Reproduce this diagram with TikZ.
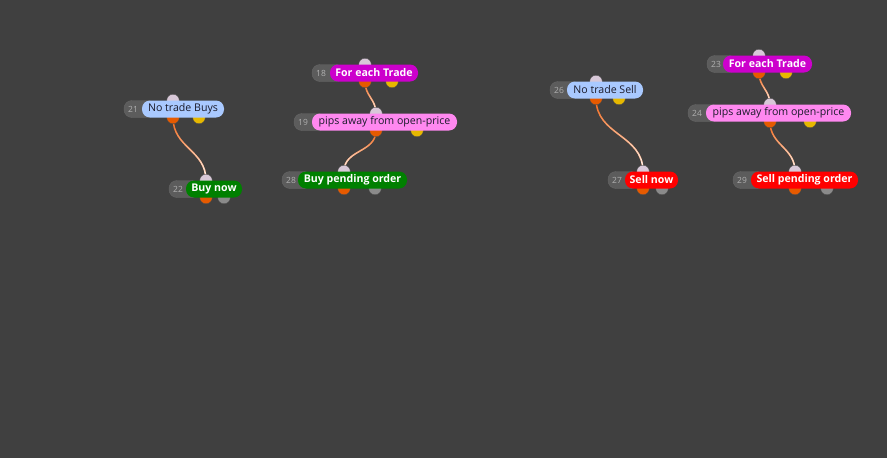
\documentclass[tikz,border=0pt]{standalone}
\usepackage{fontspec}
\setmainfont{Open Sans}
\usetikzlibrary{fadings}
\pgfdeclarelayer{bg}
\pgfdeclarelayer{conn}
\pgfsetlayers{bg,conn,main}
\definecolor{bgc}{HTML}{404040}
\definecolor{numbox}{HTML}{5C5C5C}
\definecolor{numtxt}{HTML}{B0B0B0}
\definecolor{lblue}{HTML}{A9C9FF}
\definecolor{dgreen}{HTML}{008000}
\definecolor{magen}{HTML}{CC00CC}
\definecolor{pinkc}{HTML}{FF88F0}
\definecolor{redc}{HTML}{FF0000}
\definecolor{knobin}{HTML}{D8C8D8}
\definecolor{knobor}{HTML}{E65A00}
\definecolor{knobye}{HTML}{E6B800}
\definecolor{knobgr}{HTML}{8A8A8A}
\definecolor{wireor}{HTML}{F2600E}
\definecolor{darktxt}{HTML}{1A1A2A}
\tikzfading[name=fadedown, top color=transparent!100, middle color=transparent!88, bottom color=transparent!0]
\tikzset{
  knob/.style={circle, minimum size=12.5pt, inner sep=0pt, draw=black!70, line width=0.3pt},
  numbox/.style={rectangle, rounded corners=8pt, minimum height=17pt, inner sep=0pt, fill=numbox, draw=black!60, line width=0.4pt},
  numlabel/.style={inner sep=0pt, text=numtxt, font=\fontsize{8.5}{9}\selectfont},
  pill/.style={rectangle, rounded corners=8pt, minimum height=17pt, inner sep=0pt, font=\fontsize{10.6}{12}\selectfont},
  wire/.style={line width=1.5pt, wireor, line cap=round},
  wirew/.style={line width=1.5pt, white, line cap=round, path fading=fadedown}
}
\begin{document}
\begin{tikzpicture}[x=1pt,y=1pt]
\begin{pgfonlayer}{bg}
\fill[bgc] (0,0) rectangle (887,-458);
\end{pgfonlayer}
\useasboundingbox (0,0) rectangle (887,-458);
\foreach \num/\gx/\ca/\cb/\cy/\kx/\sx/\sc/\col/\tc/\fw/\txt in {
  21/124/142/224/109/173/199/knobye/lblue/darktxt/\mdseries/No trade Buys,
  22/169/186/242/189/206/224/knobgr/dgreen/white/\bfseries/Buy now,
  18/312/330/418/73/365/392/knobye/magen/white/\bfseries/For each Trade,
  19/294/312/457/122/376/417/knobye/pinkc/darktxt/\mdseries/pips away from open-price,
  28/282/298/407/180/344/375/knobgr/dgreen/white/\bfseries/Buy pending order,
  26/550/567/643/90/596/619/knobye/lblue/darktxt/\mdseries/No trade Sell,
  27/608/625/678/180/643/662/knobgr/redc/white/\bfseries/Sell now,
  23/707/723/812/64/759/786/knobye/magen/white/\bfseries/For each Trade,
  24/688/706/851/113/770/810/knobye/pinkc/darktxt/\mdseries/pips away from open-price,
  29/733/751/858/180/795/827/knobgr/redc/white/\bfseries/Sell pending order}{
  \pgfmathsetmacro\pw{\cb-\ca}
  \pgfmathsetmacro\pc{(\ca+\cb)/2}
  \pgfmathsetmacro\gw{\ca-\gx+14}
  \pgfmathsetmacro\gc{\gx+\gw/2}
  \node[knob, fill=knobin] (i\num) at (\kx,{8.5-\cy}) {};
  \node[knob, fill=knobor] (o\num) at (\kx,{-\cy-8.5}) {};
  \node[knob, fill=\sc] (s\num) at (\sx,{-\cy-8.5}) {};
  \node[numbox, minimum width=\gw] (g\num) at (\gc,-\cy) {};
  \node[numlabel, anchor=west] (n\num) at ({\gx+4},-\cy) {\num};
  \node[pill, fill=\col, text=\tc, minimum width=\pw] (p\num) at (\pc,-\cy) {\fw\txt};
}
\begin{pgfonlayer}{conn}
\foreach \a/\b in {21/22,18/19,19/28,26/27,23/24,24/29}{
  \draw[wire] (o\a.center) to[out=-90,in=90,looseness=1.1] (i\b.center);
  \draw[wirew] (o\a.center) to[out=-90,in=90,looseness=1.1] (i\b.center);
}
\end{pgfonlayer}
\end{tikzpicture}
\end{document}
